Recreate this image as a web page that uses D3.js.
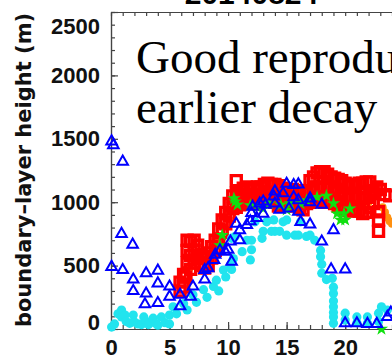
<!DOCTYPE html>
<html>
<head>
<meta charset="utf-8">
<script src="https://cdn.jsdelivr.net/npm/d3@7"></script>
<style>
body { margin: 0; background: #fff; }
svg { display: block; }
</style>
</head>
<body>
<div id="chart"></div>
<script>
var title = "20140824"
var yLabel = "boundary\u2013layer height (m)"
var noteLines = ["Good reproduction", "earlier decay"]
var xTicks = [0, 5, 10, 15, 20]
var yTicks = [0, 500, 1000, 1500, 2000, 2500]

// [hour, height m]
var redSquares = [
    [5.9,300],[5.9,370],[6.2,330],[6.2,430],
    [6.4,410],[6.5,520],[6.5,620],[6.5,700],
    [6.8,470],[6.8,580],[6.8,690],[7.1,520],[7.1,620],[7.1,700],
    [7.4,560],[7.4,660],[7.7,500],[7.7,590],[8.0,480],[8.0,560],
    [8.3,500],[8.3,600],[8.6,560],[8.6,650],[8.9,620],[8.9,700],
    [9.2,680],[9.2,790],[9.5,760],[9.5,860],[9.8,830],[9.8,920],
    [10.1,890],[10.1,990],[10.4,950],[10.4,1050],
    [10.7,960],[10.7,1070],[10.7,1170],[11.0,980],[11.0,1090],
    [11.3,990],[11.3,1060],[11.3,1110],[11.6,1000],[11.6,1120],
    [11.9,1000],[11.9,1060],[11.9,1110],[12.2,990],[12.2,1100],
    [12.5,990],[12.5,1060],[12.5,1120],[12.8,1010],[12.8,1120],
    [13.1,1020],[13.1,1080],[13.1,1140],[13.4,1030],[13.4,1150],
    [13.7,1020],[13.7,1080],[13.7,1140],[14.0,1000],[14.0,1140],
    [14.3,970],[14.3,1060],[14.3,1130],[14.6,980],[14.6,1110],
    [14.9,990],[14.9,1050],[14.9,1100],[15.2,990],[15.2,1090],
    [15.5,980],[15.5,1040],[15.5,1100],[15.8,970],[15.8,1090],
    [16.1,960],[16.1,1030],[16.1,1090],[16.4,940],[16.4,1080],
    [16.7,990],[16.7,1070],[17.0,1000],[17.0,1090],[17.0,1170],
    [17.3,1010],[17.3,1110],[17.3,1200],[17.6,1020],[17.6,1120],[17.6,1230],
    [17.9,1010],[17.9,1120],[17.9,1240],[18.2,1000],[18.2,1110],[18.2,1240],
    [18.5,1000],[18.5,1110],[18.5,1220],[18.8,1010],[18.8,1110],[18.8,1200],
    [19.1,990],[19.1,1090],[19.1,1190],[19.4,970],[19.4,1080],[19.4,1180],
    [19.7,950],[19.7,1060],[19.7,1170],[20.0,940],[20.0,1040],[20.0,1150],
    [20.3,935],[20.3,1030],[20.3,1130],[20.6,930],[20.6,1040],[20.6,1130],
    [20.9,935],[20.9,1040],[20.9,1140],[21.2,930],[21.2,1040],[21.2,1150],
    [21.5,910],[21.5,1030],[21.5,1150],[21.8,920],[21.8,1040],[21.8,1160],
    [22.1,960],[22.1,1060],[22.1,1160],[22.4,990],[22.4,1090],
    [22.7,1120],[22.85,925],[22.85,860],[22.85,770],
    [23.0,1100],[23.4,1060],[23.8,1050]
]
var orangeDots = [
    [6.5,465],[6.7,480],[7.0,560],[9.0,700],[10.5,1000],[12.0,1050],
    [15.0,1000],[18.0,1060],[20.0,1000],[21.0,990],[22.0,1000],
    [23.2,960],[23.4,920],[23.6,880],[23.8,850],[24.0,830]
]
var greenStars = [
    [9.3,660],[9.5,740],[10.5,1030],[10.6,1005],[10.8,980],[11.9,975],
    [12.5,960],[13.0,950],[13.5,990],[14.5,980],[15.0,940],[15.3,990],
    [16.2,990],[16.7,1015],[17.6,1040],[18.4,1050],[19.0,990],[19.3,910],
    [19.6,860],[19.9,910],[20.0,860],[20.4,950],[23.1,0]
]
var cyanDots = [
    [0.05,15],[0.3,40],[0.6,120],[0.9,150],[0.9,95],[1.2,110],[1.3,60],
    [1.6,45],[1.9,110],[2.0,55],[2.3,40],[2.6,35],[2.8,95],[3.0,60],
    [3.2,35],[3.6,85],[3.8,45],[4.0,30],[4.3,95],[4.6,50],[5.0,110],
    [5.0,40],[5.3,175],[5.6,120],[6.2,200],[6.5,150],[7.0,270],[7.3,210],
    [7.9,310],[8.2,250],[8.75,335],[9.0,385],[9.2,300],[9.6,465],[9.8,410],
    [10.2,505],[10.3,470],[10.3,715],[10.45,555],[10.6,730],[11.2,610],
    [11.6,700],[11.9,545],[12.0,625],[12.0,700],[12.3,845],[12.9,715],
    [13.0,770],[13.3,845],[13.7,770],[13.9,860],[14.0,770],[14.4,770],
    [14.7,845],[15.0,740],[15.0,860],[15.7,740],[16.0,740],[16.2,845],
    [16.7,730],[17.0,740],[17.4,700],[17.9,620],[17.9,570],[18.0,510],
    [18.0,440],[18.4,390],[18.9,400],[19.0,330],[19.0,280],[19.0,220],
    [19.0,175],[19.0,130],[19.0,95],[19.0,45],[20.0,125],[20.0,70],
    [21.0,95],[21.0,50],[21.9,95],[21.9,45],[22.85,125],[22.85,60],
    [23.1,175],[23.6,150]
]
var blueTriangles = [
    [0.05,1480],[0.2,1450],[1.0,1320],[0.9,750],[1.85,665],
    [0.05,490],[1.0,465],[1.9,390],[1.9,300],[3.0,440],[3.0,280],[2.9,195],
    [4.0,460],[4.0,360],[4.0,205],[5.0,335],[5.0,255],[5.9,270],[5.9,180],
    [6.8,255],[7.0,335],[8.0,465],[8.0,390],[8.3,480],[8.8,545],[8.9,585],
    [9.3,620],[9.75,610],[10.0,625],[10.3,530],[10.2,690],[10.7,830],
    [11.0,700],[11.0,780],[11.6,820],[11.9,850],[12.0,915],[12.1,965],
    [12.45,875],[12.7,990],[13.0,1005],[13.0,910],[13.2,980],[13.9,1045],
    [14.0,1085],[14.0,990],[14.4,940],[14.7,1070],[15.0,1145],[15.2,950],
    [15.6,1135],[15.6,1040],[16.0,1140],[16.0,1015],[16.0,925],[16.2,845],
    [17.0,1030],[17.0,1000],[17.0,825],[18.0,980],[18.0,690],[19.0,780],
    [18.8,470],[20.0,470],[20.0,45],[21.0,45],[21.9,40],[22.7,40],
    [23.6,95],[23.9,130]
]

var width = 392, height = 360

var svg = d3.select("#chart").append("svg")
    .attr("width", width)
    .attr("height", height)

var x = d3.scaleLinear().domain([0, 24]).range([111, 392])
var y = d3.scaleLinear().domain([0, 2500]).range([329, 12])

var tick_font = "'Liberation Sans', Arial, sans-serif"
var axis_color = "#444"

// title, cut by the top edge
svg.append("text")
    .text(title)
    .attr("x", x(12))
    .attr("y", 4)
    .attr("text-anchor", "middle")
    .style("font-family", tick_font)
    .style("font-weight", "bold")
    .style("font-size", "30px")

// minor ticks
svg.append("g")
    .attr("transform", "translate(111,0)")
    .call(d3.axisLeft(y).tickValues(d3.range(0, 2501, 100)).tickSize(-4).tickSizeOuter(0).tickFormat(""))
svg.append("g")
    .attr("transform", "translate(0,329)")
    .call(d3.axisBottom(x).tickValues(d3.range(0, 25, 1)).tickSize(-4).tickSizeOuter(0).tickFormat(""))
svg.append("g")
    .attr("transform", "translate(0,12)")
    .call(d3.axisTop(x).tickValues(d3.range(0, 25, 1)).tickSize(-4).tickSizeOuter(0).tickFormat(""))

// major ticks + labels
var y_axis = svg.append("g")
    .attr("transform", "translate(111,0)")
    .call(d3.axisLeft(y).tickValues(yTicks).tickSize(-7).tickSizeOuter(0).tickPadding(11).tickFormat(d3.format("d")))
var x_axis = svg.append("g")
    .attr("transform", "translate(0,329)")
    .call(d3.axisBottom(x).tickValues(xTicks).tickSize(-7).tickSizeOuter(0).tickPadding(10).tickFormat(d3.format("d")))

svg.selectAll(".domain, .tick line")
    .attr("stroke", axis_color)
    .attr("stroke-width", 1.2)

svg.selectAll(".tick text")
    .attr("fill", "#111")
    .style("font-family", tick_font)
    .style("font-weight", "bold")
    .style("font-size", "22px")

// end labels sit inside the frame
y_axis.selectAll(".tick text")
    .attr("dy", function(d){
        if (d == 2500) return "0.97em"
        if (d == 0) return "0.02em"
        return "0.32em"
    })

svg.append("text")
    .text(yLabel)
    .attr("transform", "translate(31,170) rotate(-90)")
    .attr("text-anchor", "middle")
    .attr("fill", "#111")
    .style("font-family", "'DejaVu Sans', sans-serif")
    .style("font-weight", "bold")
    .style("font-size", "21px")

// markers
var plot = svg.append("g")

plot.selectAll(".orange")
    .data(orangeDots).enter()
    .append("circle")
    .attr("class", "orange")
    .attr("cx", function(d){ return x(d[0]) })
    .attr("cy", function(d){ return y(d[1]) })
    .attr("r", 4)
    .attr("fill", "#ff9010")

plot.selectAll(".red")
    .data(redSquares).enter()
    .append("path")
    .attr("class", "red")
    .attr("d", d3.symbol(d3.symbolSquare, 100))
    .attr("transform", function(d){ return "translate(" + x(d[0]) + "," + y(d[1]) + ")" })
    .attr("fill", "none")
    .attr("stroke", "#ff0000")
    .attr("stroke-width", 3.4)

plot.selectAll(".green")
    .data(greenStars).enter()
    .append("path")
    .attr("class", "green")
    .attr("d", d3.symbol(d3.symbolStar, 55))
    .attr("transform", function(d){ return "translate(" + x(d[0]) + "," + y(d[1]) + ")" })
    .attr("fill", "#10e010")

plot.selectAll(".cyan")
    .data(cyanDots).enter()
    .append("circle")
    .attr("class", "cyan")
    .attr("cx", function(d){ return x(d[0]) })
    .attr("cy", function(d){ return y(d[1]) })
    .attr("r", 4.6)
    .attr("fill", "#22e4ee")

plot.selectAll(".blue")
    .data(blueTriangles).enter()
    .append("path")
    .attr("class", "blue")
    .attr("d", d3.symbol(d3.symbolTriangle, 48))
    .attr("transform", function(d){ return "translate(" + x(d[0]) + "," + y(d[1]) + ")" })
    .attr("fill", "none")
    .attr("stroke", "#0000ff")
    .attr("stroke-width", 2)

// annotation, runs off the right edge
svg.selectAll(".note")
    .data(noteLines).enter()
    .append("text")
    .attr("class", "note")
    .text(function(d){ return d })
    .attr("x", 136)
    .attr("y", function(d, i){ return 73 + i*50 })
    .style("font-family", "'Liberation Serif', 'Times New Roman', serif")
    .style("font-size", "47px")
</script>
</body>
</html>
